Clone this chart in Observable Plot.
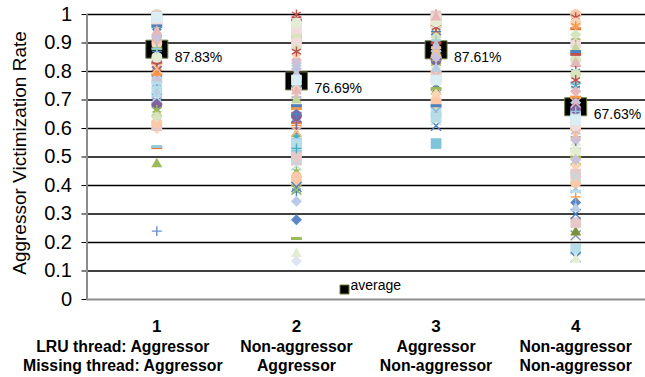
<!DOCTYPE html>
<html><head><meta charset="utf-8">
<script src="https://cdn.jsdelivr.net/npm/d3@7"></script>
<script src="https://cdn.jsdelivr.net/npm/@observablehq/plot@0.6"></script>
<style>body{margin:0;background:#fff;}</style>
</head><body><div id="chart"></div>
<script>
// ---- data ----
const categories = [1, 2, 3, 4];
const xLabels = [
  "LRU thread: Aggressor\nMissing thread: Aggressor",
  "Non-aggressor\nAggressor",
  "Aggressor\nNon-aggressor",
  "Non-aggressor\nNon-aggressor"
];
const averages = [0.8783, 0.7669, 0.8761, 0.6763];
const averageLabels = ["87.83%", "76.69%", "87.61%", "67.63%"];
const yTicks = [0, 0.1, 0.2, 0.3, 0.4, 0.5, 0.6, 0.7, 0.8, 0.9, 1];
const yTitle = "Aggressor Victimization Rate";
const legendLabel = "average";

// one value per series (60 series) in each category
const cat1 = [0.95,0.99,0.475,0.82,0.78,0.97,0.24,0.533,0.75,0.78,
  0.92,0.80,0.81,1.00,0.86,0.537,0.89,0.995,0.96,0.94,
  0.70,0.90,0.84,0.88,0.77,0.985,0.93,0.66,0.74,0.97,
  0.68,0.79,0.91,0.73,0.655,0.69,0.80,0.685,0.72,0.83,
  0.60,0.61,0.93,0.625,0.665,0.62,0.87,0.76,0.64,0.98,
  0.72,0.81,0.85,0.85,0.88,0.96,0.92,0.99,0.94,0.71];
const cat2 = [0.28,0.92,0.58,0.64,0.38,0.415,0.71,0.62,0.345,0.55,
  0.44,0.66,1.00,0.93,0.61,0.52,0.135,0.50,0.16,0.395,
  0.63,0.74,0.99,0.214,0.81,0.90,0.69,0.385,0.57,0.96,
  0.60,0.67,0.84,0.545,0.70,0.76,0.48,0.645,0.53,0.98,
  0.86,0.49,0.79,0.72,0.45,0.43,0.65,0.56,0.88,0.95,
  0.78,0.59,0.87,0.97,0.82,0.68,0.83,0.77,0.73,0.47];
const cat3 = [0.93,0.547,0.83,0.75,0.98,0.85,0.90,0.96,0.91,0.67,
  0.73,0.755,1.00,0.97,0.86,0.99,0.92,0.995,0.88,0.61,
  0.89,0.70,0.94,0.74,0.87,0.98,0.82,0.845,0.95,0.96,
  0.88,0.80,0.79,0.64,0.86,0.66,0.93,0.84,0.97,0.90,
  0.72,0.78,0.89,0.785,0.845,0.69,0.94,0.65,0.92,0.985,
  0.81,0.87,0.955,0.975,0.91,0.68,0.85,0.77,0.99,0.63];
const cat4 = [0.34,0.64,0.48,0.225,0.80,1.00,0.57,0.95,0.69,0.176,
  0.236,0.148,0.99,0.84,0.36,0.76,0.60,0.27,0.55,0.30,
  0.74,0.97,0.82,0.50,0.56,0.90,0.14,0.46,0.75,0.79,
  0.62,0.71,0.73,0.65,0.88,0.39,0.96,0.67,0.44,0.86,
  0.47,0.44,0.59,0.69,0.92,0.41,0.53,0.38,0.93,0.61,
  0.32,0.58,0.77,0.52,0.66,0.87,0.49,0.63,0.83,0.43];

// ---- styles ----
const seriesColors = [
  "#5b87c9","#7fc4d8","#9bbb59","#8497b0","#4f81bd","#f9c8a8","#6a90d0","#e07b39","#b9c9e8","#b7dee8",
  "#77933c","#4f81bd","#c0504d","#d7e4bd","#f79646","#92cddc","#dce6f2","#e6c9c8","#e4ecd4","#4f81bd",
  "#8064a2","#fcd5b5","#c0504d","#9bbb59","#ccc1da","#f2dcdb","#e4ecd4","#9bbb59","#4bacc6","#d7e4bd",
  "#8064a2","#f79646","#e6b9b8","#b7dee8","#c3d69b","#95b3d7","#f79646","#8064a2","#4bacc6","#c0504d",
  "#fcd5b5","#e6c9c8","#ccc1da","#e6b9b8","#9bbb59","#fbc8a8","#4f81bd","#b7dee8","#d7e4bd","#f2dcdb",
  "#b9cde5","#fac090","#c0504d","#e4ecd4","#93cddd","#4f81bd","#ccc1da","#dbeef4","#e6b9b8","#b7dee8"
];
const scaled = (sym, k) => ({draw(ctx, size) { sym.draw(ctx, size * k); }});
const dashSymbol = {draw(ctx, size) { const w = Math.sqrt(size) * 0.56; ctx.rect(-w, -1.5, 2 * w, 3); }};
const markerCycle = [
  scaled(d3.symbolDiamond2, 0.81), scaled(d3.symbolSquare, 1.2), scaled(d3.symbolTriangle, 0.55),
  scaled(d3.symbolTimes, 0.7), scaled(d3.symbolAsterisk, 0.74), d3.symbolCircle,
  scaled(d3.symbolPlus, 0.36), dashSymbol
];
const lineMarkers = new Set([3, 4, 6]);
const averageSymbol = {draw(ctx) { ctx.rect(-11, -9, 22, 18); }};
const legendSymbol = {draw(ctx) { ctx.rect(-4.5, -4.5, 9, 9); }};

const catValues = [cat1, cat2, cat3, cat4];
const points = [];
for (let i = 0; i < seriesColors.length; i++) {
  for (let c = 0; c < categories.length; c++) {
    points.push({cat: categories[c], series: i, value: catValues[c][i]});
  }
}
const avgData = categories.map((c, k) => ({cat: c, value: averages[k], label: averageLabels[k]}));
const labelData = categories.map((c, k) => ({cat: c, label: xLabels[k]}));
const descStyle = {x: "cat", frameAnchor: "bottom", dy: 39, lineAnchor: "top", text: "label",
  fontSize: 17, fontWeight: "bold", lineHeight: 1.12, ariaDescription: "x-labels"};

const chart = Plot.plot({
  width: 645, height: 377,
  marginLeft: 86.5, marginRight: 0, marginTop: 14, marginBottom: 78,
  style: {fontFamily: "'Liberation Sans', Arial, sans-serif", fontSize: "20px", background: "#fff", color: "#000"},
  x: {domain: [0.5, 4.5], axis: null},
  y: {domain: [0, 1], ticks: yTicks, tickFormat: d => String(d), tickSize: 5, tickPadding: 10, label: null},
  marks: [
    Plot.ruleY(yTicks.filter(v => v > 0), {stroke: "#000", strokeWidth: 1.5}),
    Plot.ruleY([0], {stroke: "#8c8c8c", strokeWidth: 2}),
    Plot.ruleX([0.5], {stroke: "#8c8c8c", strokeWidth: 2}),
    Plot.dot(avgData, {x: "cat", y: "value", symbol: averageSymbol, fill: "#000", stroke: "#6b7b3b", strokeWidth: 1}),
    Plot.dot(points, {x: "cat", y: "value", r: 5.5,
      symbol: d => markerCycle[d.series % markerCycle.length],
      fill: d => seriesColors[d.series],
      stroke: d => lineMarkers.has(d.series % markerCycle.length) ? seriesColors[d.series] : "none",
      strokeWidth: 1.4}),
    Plot.text(avgData, {x: "cat", y: "value", text: "label", dx: 18, dy: 8, textAnchor: "start", fontSize: 14}),
    Plot.dot([legendLabel], {frameAnchor: "bottom-left", dx: 257.5, dy: -10, symbol: legendSymbol, fill: "#000", stroke: "#6b7b3b", strokeWidth: 1}),
    Plot.text([legendLabel], {frameAnchor: "bottom-left", dx: 263.5, dy: -10, text: d => d, textAnchor: "start", fontSize: 14}),
    Plot.text(categories, {x: d => d, frameAnchor: "bottom", dy: 20, lineAnchor: "top", text: d => String(d),
      fontSize: 17, fontWeight: "bold"}),
    Plot.text(labelData.filter(d => d.cat === 1), {...descStyle, dx: -34}),
    Plot.text(labelData.filter(d => d.cat !== 1), descStyle),
    Plot.text([yTitle], {frameAnchor: "left", dx: -67, dy: -4, rotate: -90, textAnchor: "middle", text: d => d, fontSize: 19})
  ]
});
// slightly condensed look for the bold category descriptions
d3.select(chart).selectAll('g[aria-description="x-labels"] text').each(function() {
  const t = this.getAttribute("transform") || "";
  this.setAttribute("transform", t + " scale(0.93,1)");
});
document.getElementById("chart").appendChild(chart);
</script>
</body></html>
